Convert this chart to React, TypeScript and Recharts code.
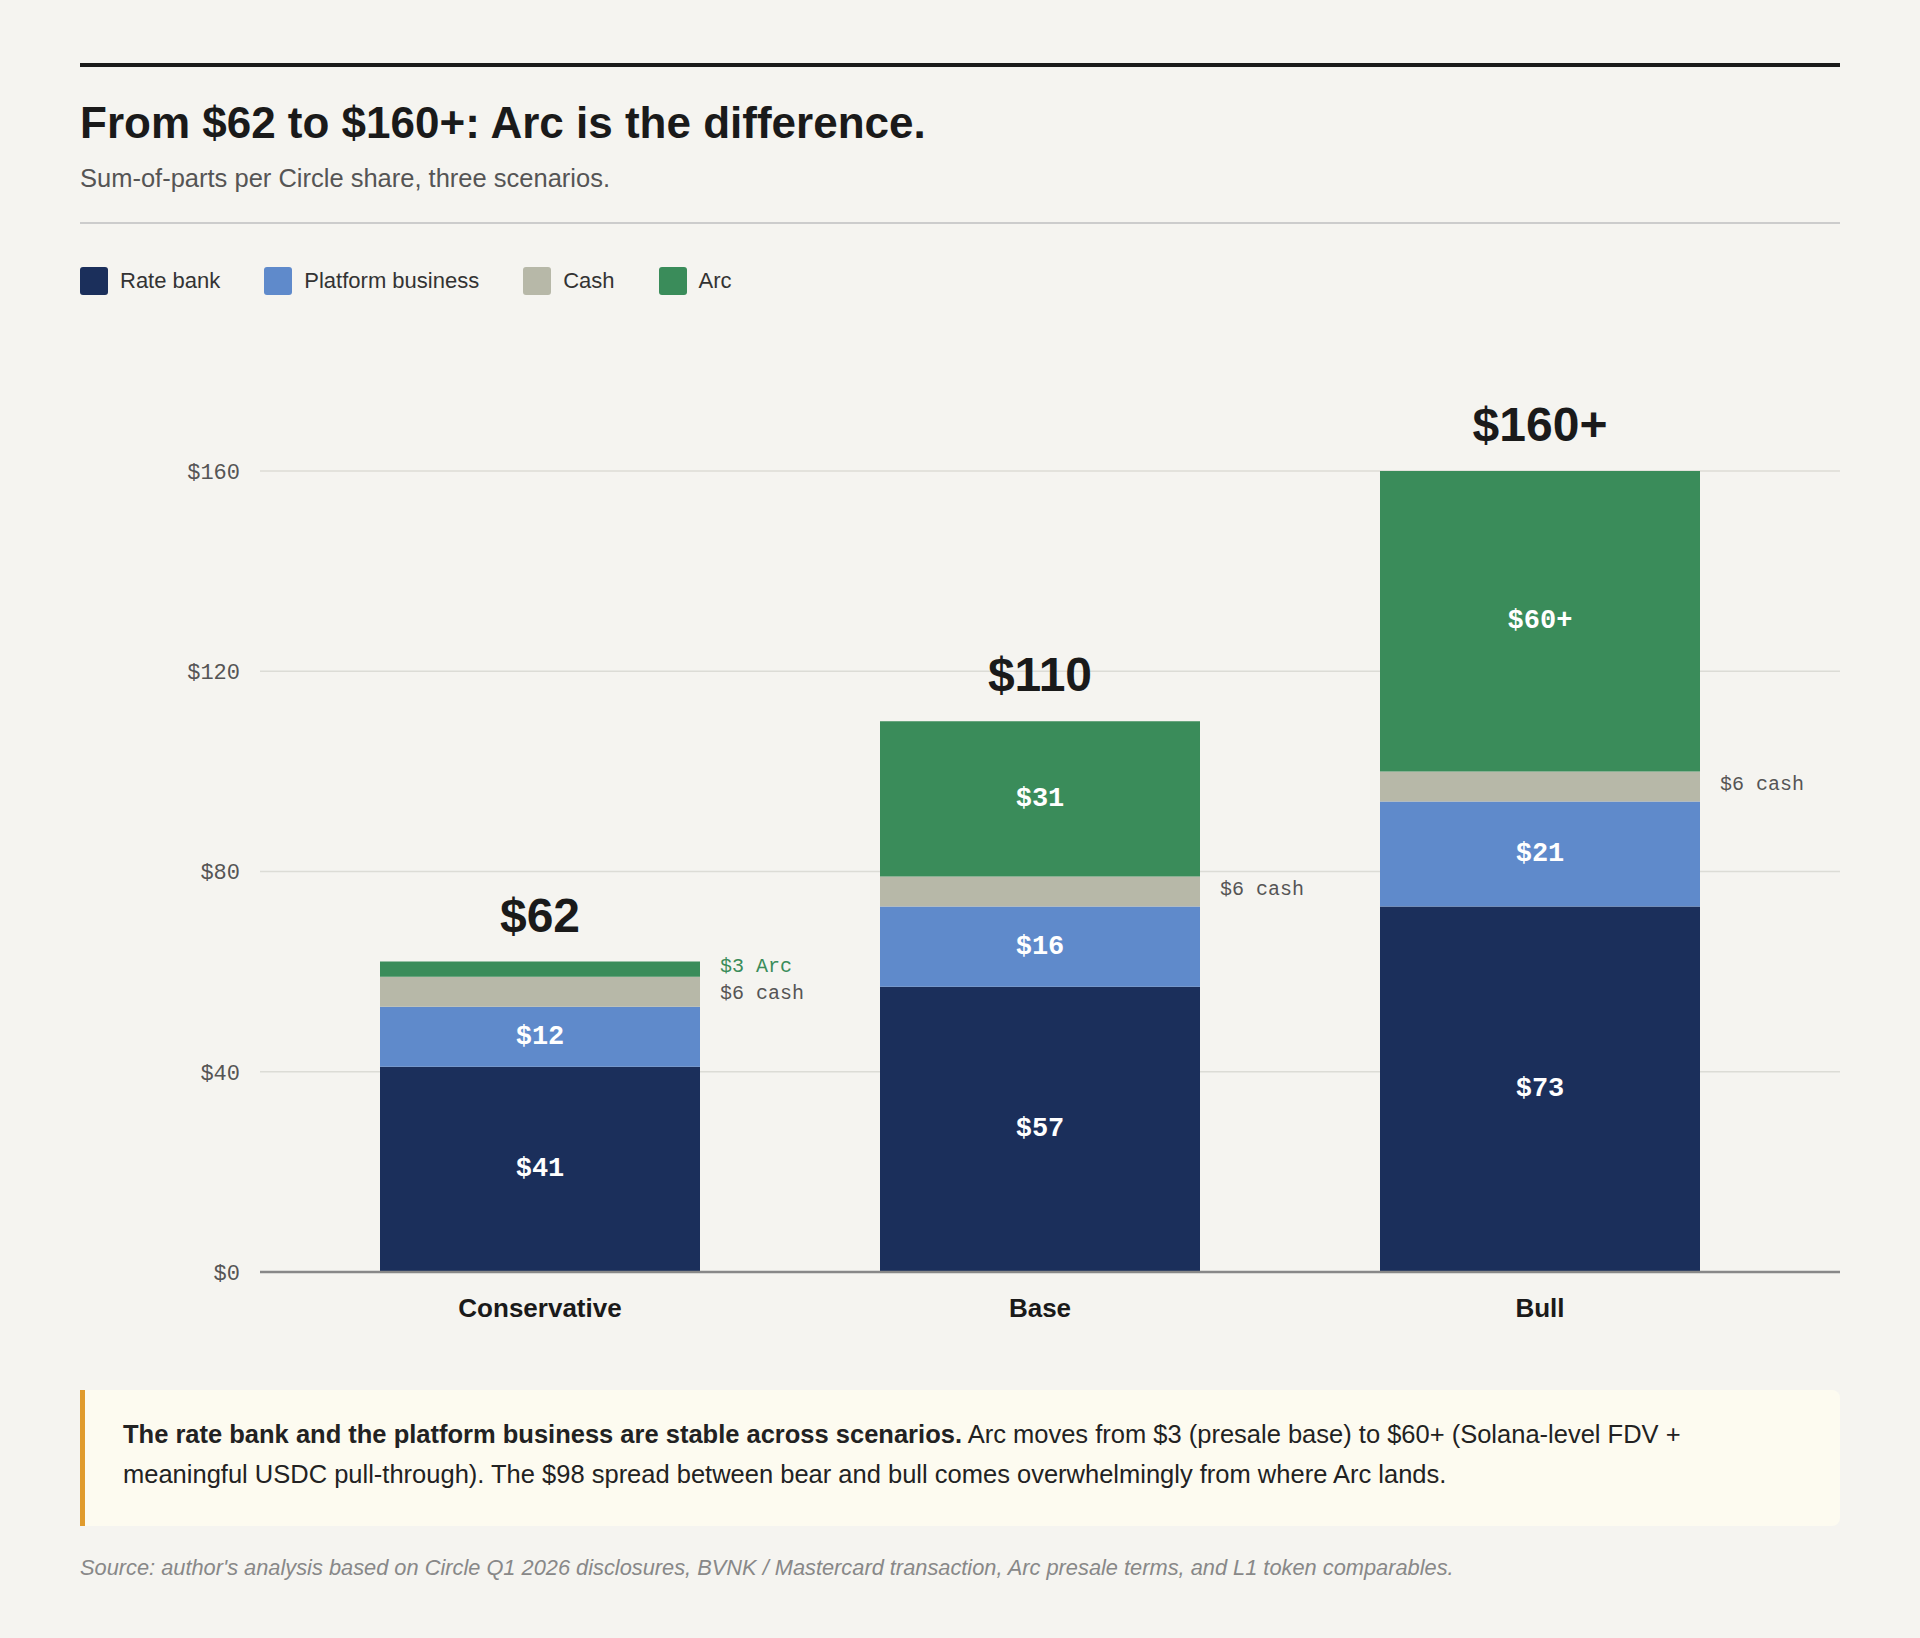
import { Bar, BarChart, CartesianGrid, LabelList, XAxis, YAxis } from "recharts";

const scenarios = ["Conservative", "Base", "Bull"];
const rateBank = [41, 57, 73];
const platform = [12, 16, 21];
const cash = [6, 6, 6];
const arc = [3, 31, 60];
const totals = ["$62", "$110", "$160+"];
const arcLabels = ["$3", "$31", "$60+"];
const yTicks = [0, 40, 80, 120, 160];

const C_RATE = "#1b2f5b";
const C_PLAT = "#5f8acb";
const C_CASH = "#b7b8a8";
const C_ARC = "#3a8c5a";

const data = scenarios.map((name, i) => ({
  name,
  rateBank: rateBank[i],
  platform: platform[i],
  cash: cash[i],
  arc: arc[i],
}));

const MONO = "'Liberation Mono', 'DejaVu Sans Mono', monospace";
const SANS = "'Liberation Sans', Arial, sans-serif";

function Inner(props: any) {
  const { x, y, width, height, value, index } = props;
  if (height < 30) return null;
  return (
    <text x={x + width / 2} y={y + height / 2} textAnchor="middle" dominantBaseline="central"
      fill="#fff" fontFamily={MONO} fontWeight={700} fontSize={27}>
      {props.labels ? props.labels[index] : `$${value}`}
    </text>
  );
}

function CashSide(props: any) {
  const { x, y, width, height, index } = props;
  const cy = index === 0 ? y + height / 2 + 2 : y + height / 2 - 2;
  return (
    <text x={x + width + 20} y={cy} dominantBaseline="central" fill="#555" fontFamily={MONO} fontSize={20}>
      $6 cash
    </text>
  );
}

function ArcTop(props: any) {
  const { x, y, width, height, index } = props;
  return (
    <g>
      <text x={x + width / 2} y={y - 30} textAnchor="middle" fill="#1a1a1a" fontFamily={SANS} fontWeight={700} fontSize={48}>
        {totals[index]}
      </text>
      {index === 0 ? (
        <text x={x + width + 20} y={y + height / 2 - 3} dominantBaseline="central" fill={C_ARC} fontFamily={MONO} fontSize={20}>
          $3 Arc
        </text>
      ) : (
        <Inner {...props} labels={arcLabels} />
      )}
    </g>
  );
}

const legendItems = [
  { label: "Rate bank", color: C_RATE },
  { label: "Platform business", color: C_PLAT },
  { label: "Cash", color: C_CASH },
  { label: "Arc", color: C_ARC },
];

export default function App() {
  return (
    <div style={{ position: "fixed", top: 0, left: 0, width: 1920, height: 1638, background: "#f5f4f0", fontFamily: SANS, color: "#1a1a1a" }}>
      <div style={{ position: "absolute", left: 80, top: 63, width: 1760, height: 4, background: "#1a1a1a" }} />
      <div style={{ position: "absolute", left: 80, top: 98, fontSize: 44, fontWeight: 700 }}>
        From $62 to $160+: Arc is the difference.
      </div>
      <div style={{ position: "absolute", left: 80, top: 164, fontSize: 25.5, color: "#555" }}>
        Sum-of-parts per Circle share, three scenarios.
      </div>
      <div style={{ position: "absolute", left: 80, top: 222, width: 1760, height: 2, background: "#ccc" }} />
      <div style={{ position: "absolute", left: 80, top: 267, display: "flex", gap: 44, fontSize: 22, alignItems: "center" }}>
        {legendItems.map((it) => (
          <div key={it.label} style={{ display: "flex", alignItems: "center", gap: 12 }}>
            <span style={{ width: 28, height: 28, borderRadius: 3, background: it.color, display: "inline-block" }} />
            <span style={{ color: "#333" }}>{it.label}</span>
          </div>
        ))}
      </div>
      <div style={{ position: "absolute", left: 0, top: 0 }}>
        <BarChart width={1920} height={1340} data={data} margin={{ top: 471, right: 80, bottom: 28, left: 180 }} barSize={320}>
          <CartesianGrid vertical={false} stroke="#dcdcd6" strokeWidth={1.5} />
          <XAxis dataKey="name" height={40} padding={{ left: 30, right: 50 }} tickLine={false}
            axisLine={{ stroke: "#888", strokeWidth: 2.5 }} tickSize={0} tickMargin={27}
            tick={{ fill: "#1a1a1a", fontSize: 26, fontWeight: 700, fontFamily: SANS }} />
          <YAxis width={80} domain={[0, 160]} ticks={yTicks} tickFormatter={(v: number) => `$${v}`}
            axisLine={false} tickLine={false} tickSize={0} tickMargin={20}
            tick={{ fill: "#555", fontSize: 22, fontFamily: MONO }} />
          <Bar dataKey="rateBank" stackId="a" fill={C_RATE} isAnimationActive={false}>
            <LabelList dataKey="rateBank" content={<Inner />} />
          </Bar>
          <Bar dataKey="platform" stackId="a" fill={C_PLAT} isAnimationActive={false}>
            <LabelList dataKey="platform" content={<Inner />} />
          </Bar>
          <Bar dataKey="cash" stackId="a" fill={C_CASH} isAnimationActive={false}>
            <LabelList dataKey="cash" content={<CashSide />} />
          </Bar>
          <Bar dataKey="arc" stackId="a" fill={C_ARC} isAnimationActive={false}>
            <LabelList dataKey="arc" content={<ArcTop />} />
          </Bar>
        </BarChart>
      </div>
      <div style={{ position: "absolute", left: 80, top: 1390, width: 1760, height: 136, boxSizing: "border-box", background: "#fdfbf0", borderLeft: "5px solid #e09b2d", borderRadius: "0 8px 8px 0", padding: "24px 40px 0 38px", fontSize: 25.5, lineHeight: "40px", color: "#222" }}>
        <b>The rate bank and the platform business are stable across scenarios.</b> Arc moves from $3 (presale base) to $60+ (Solana-level FDV + meaningful USDC pull-through). The $98 spread between bear and bull comes overwhelmingly from where Arc lands.
      </div>
      <div style={{ position: "absolute", left: 80, top: 1555, fontSize: 21.8, fontStyle: "italic", color: "#888" }}>
        Source: author's analysis based on Circle Q1 2026 disclosures, BVNK / Mastercard transaction, Arc presale terms, and L1 token comparables.
      </div>
    </div>
  );
}
